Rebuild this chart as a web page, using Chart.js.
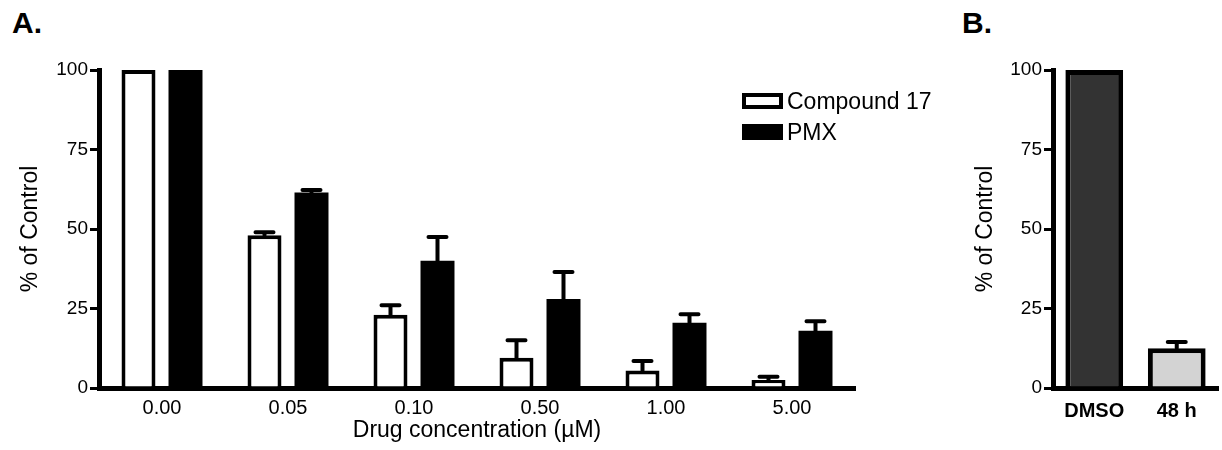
<!DOCTYPE html>
<html>
<head>
<meta charset="utf-8">
<script src="https://cdn.jsdelivr.net/npm/chart.js@4.4.1/dist/chart.umd.min.js"></script>
<style>
  body { margin: 0; background: #fff; width: 1222px; height: 450px; position: relative; overflow: hidden;
         font-family: "Liberation Sans", Arial, sans-serif; color: #000; }
  .panel { position: absolute; top: 0; height: 450px; }
  #panelA { left: 0; width: 870px; }
  #panelB { left: 950px; width: 272px; }
  .tag { position: absolute; top: 8px; font-size: 30px; font-weight: bold; line-height: 1; }
  .legend { position: absolute; left: 742px; font-size: 23px; line-height: 1; }
  .legend .item { position: absolute; left: 0; white-space: nowrap; }
  .legend .box { position: absolute; left: 0; width: 41px; height: 16px; box-sizing: border-box; border: 4px solid #000; }
  .legend .label { position: absolute; left: 45px; top: -3px; }
</style>
</head>
<body>
<div class="tag" style="left:12px">A.</div>
<div class="tag" style="left:962px">B.</div>

<div class="panel" id="panelA"><canvas id="chartA" width="870" height="450"></canvas></div>
<div class="panel" id="panelB"><canvas id="chartB" width="272" height="450"></canvas></div>

<div class="legend" style="top:93px">
  <div class="item" style="top:0"><div class="box" style="background:#fff"></div><span class="label">Compound 17</span></div>
  <div class="item" style="top:31px"><div class="box" style="background:#000"></div><span class="label">PMX</span></div>
</div>

<script>
// ----------------------------
// Data
// ----------------------------
const concentrations = ["0.00", "0.05", "0.10", "0.50", "1.00", "5.00"];
const compound17 = [100, 48, 23, 9.5, 5.5, 2.5];
const compound17Err = [0, 1, 3, 5.5, 3, 1];
const pmx = [100, 61.5, 40, 28, 20.5, 18];
const pmxErr = [0, 0.8, 7.5, 8.5, 2.7, 3];

const treatments = ["DMSO", "48 h"];
const treatmentValues = [100, 12.5];
const treatmentErr = [0, 2];

const yTicks = [0, 25, 50, 75, 100];

const FONT = '"Liberation Sans", Arial, sans-serif';
Chart.defaults.color = "#000";
Chart.defaults.font.family = FONT;

// ----------------------------
// Error bar plugin (upper whisker only)
// ----------------------------
const errorBars = {
  id: "errorBars",
  afterDatasetsDraw(chart) {
    const ctx = chart.ctx;
    const yScale = chart.scales.y;
    chart.data.datasets.forEach((ds, di) => {
      if (!ds.errors) return;
      const meta = chart.getDatasetMeta(di);
      meta.data.forEach((bar, i) => {
        const err = ds.errors[i];
        if (!err) return;
        const top = yScale.getPixelForValue(ds.data[i] + err);
        ctx.save();
        ctx.strokeStyle = "#000";
        ctx.lineWidth = 4;
        ctx.lineCap = "round";
        ctx.beginPath();
        ctx.moveTo(bar.x, bar.y);
        ctx.lineTo(bar.x, top);
        ctx.moveTo(bar.x - 9, top);
        ctx.lineTo(bar.x + 9, top);
        ctx.stroke();
        ctx.restore();
      });
    });
  }
};

function yScaleOptions(width, titlePad) {
  return {
    min: 0,
    max: 100,
    afterBuildTicks: s => { s.ticks = yTicks.map(v => ({ value: v })); },
    afterFit: s => { s.width = width; },
    ticks: { font: { size: 19 }, padding: 2, color: "#000" },
    grid: { drawOnChartArea: false, drawTicks: true, tickLength: 9, color: "#000", lineWidth: 3 },
    border: { display: true, color: "#000", width: 5 },
    title: { display: true, text: "% of Control", font: { size: 23 }, padding: { top: titlePad, bottom: 0 } }
  };
}

// ----------------------------
// Panel A
// ----------------------------
new Chart(document.getElementById("chartA"), {
  type: "bar",
  data: {
    labels: concentrations,
    datasets: [
      { label: "Compound 17", data: compound17, errors: compound17Err,
        backgroundColor: "#fff", borderColor: "#000", borderWidth: 4 },
      { label: "PMX", data: pmx, errors: pmxErr,
        backgroundColor: "#000", borderColor: "#000", borderWidth: 0 }
    ]
  },
  options: {
    responsive: false,
    animation: false,
    layout: { padding: { left: 10, top: 70, right: 15, bottom: 0 } },
    datasets: { bar: { categoryPercentage: 0.746, barPercentage: 0.723 } },
    plugins: { legend: { display: false }, tooltip: { enabled: false } },
    scales: {
      x: {
        afterFit: s => { s.height = 62; },
        ticks: { font: { size: 20 }, padding: 0, color: "#000" },
        grid: { display: false },
        border: { display: true, color: "#000", width: 5 },
        title: { display: true, text: "Drug concentration (\u00b5M)", font: { size: 23 }, padding: { top: 0, bottom: 6 } }
      },
      y: yScaleOptions(89, 7)
    }
  },
  plugins: [errorBars]
});

// ----------------------------
// Panel B
// ----------------------------
new Chart(document.getElementById("chartB"), {
  type: "bar",
  data: {
    labels: treatments,
    datasets: [
      { label: "Treatment", data: treatmentValues, errors: treatmentErr,
        backgroundColor: ["#333333", "#d3d3d3"], borderColor: "#000", borderWidth: 5 }
    ]
  },
  options: {
    responsive: false,
    animation: false,
    layout: { padding: { left: 14, top: 70, right: 4, bottom: 0 } },
    datasets: { bar: { categoryPercentage: 1, barPercentage: 0.7 } },
    plugins: { legend: { display: false }, tooltip: { enabled: false } },
    scales: {
      x: {
        afterFit: s => { s.height = 62; },
        ticks: { font: { size: 20, weight: "bold" }, padding: 3, color: "#000" },
        grid: { display: false },
        border: { display: true, color: "#000", width: 5 }
      },
      y: yScaleOptions(89, 8)
    }
  },
  plugins: [errorBars]
});
</script>
</body>
</html>
